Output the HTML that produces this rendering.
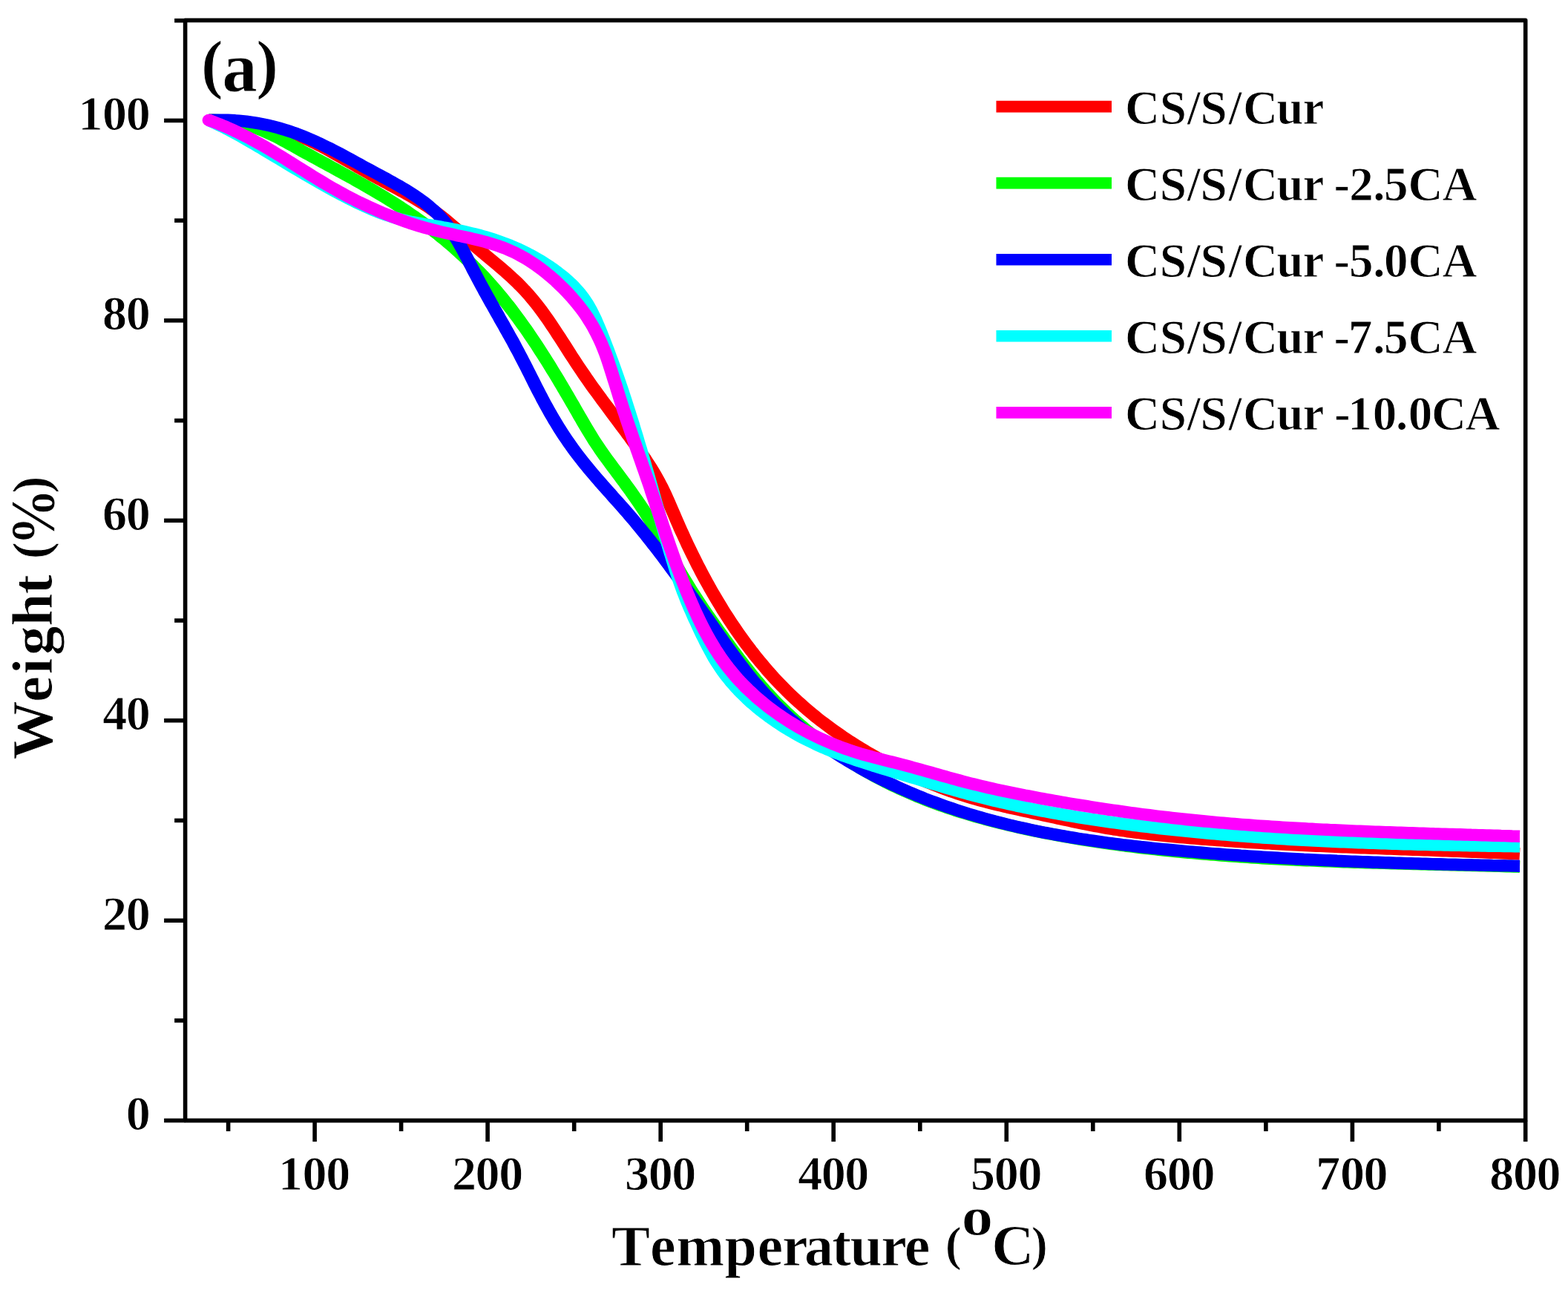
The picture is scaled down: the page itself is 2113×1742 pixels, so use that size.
<!DOCTYPE html>
<html lang="en">
<head>
<meta charset="utf-8">
<title>TGA curves (a)</title>
<style>
html,body{margin:0;padding:0;background:#fff;}
body{width:2113px;height:1742px;overflow:hidden;}
svg{display:block;filter:blur(0.6px);}
text{font-family:"Liberation Serif", "DejaVu Serif", serif;font-weight:bold;fill:#000;stroke:#fff;stroke-width:0.9px;}
.ax{stroke:#000;stroke-width:5.6;fill:none;stroke-linecap:butt;stroke-linejoin:round;}
.cv{fill:none;stroke-width:16.4;stroke-linejoin:round;}
.tk{font-size:66px;}
.lg{font-size:65px;}
</style>
</head>
<body>
<svg width="2113" height="1742" viewBox="0 0 2113 1742">
<rect x="0" y="0" width="2113" height="1742" fill="#ffffff"/>

<g id="curves" transform="scale(1.08,1)">
<path class="cv" stroke="#ff0000" d="M260.6,162.0 L265.5,162.0 L270.3,162.1 L275.1,162.3 L279.8,162.5 L284.6,162.8 L289.2,163.1 L293.9,163.5 L298.5,163.9 L303.1,164.5 L307.7,165.1 L312.2,165.7 L316.7,166.4 L321.2,167.2 L325.7,168.1 L330.1,169.1 L334.5,170.1 L338.9,171.2 L343.3,172.4 L347.6,173.7 L352.0,175.0 L356.3,176.5 L360.6,178.0 L364.8,179.6 L369.1,181.4 L373.3,183.2 L377.5,185.1 L381.7,187.1 L385.9,189.2 L390.1,191.3 L394.3,193.5 L398.4,195.8 L402.6,198.1 L406.7,200.5 L410.8,202.9 L414.9,205.4 L419.0,207.9 L423.1,210.4 L427.2,212.9 L431.3,215.5 L435.4,218.1 L439.5,220.6 L443.6,223.2 L447.6,225.8 L451.7,228.3 L455.8,230.8 L459.9,233.3 L463.9,235.8 L468.0,238.2 L472.1,240.6 L476.2,243.0 L480.2,245.4 L484.3,247.7 L488.3,250.1 L492.4,252.4 L496.4,254.8 L500.4,257.2 L504.4,259.5 L508.4,261.9 L512.4,264.4 L516.3,266.8 L520.2,269.3 L524.1,271.9 L528.0,274.5 L531.9,277.1 L535.7,279.8 L539.4,282.6 L543.2,285.4 L546.9,288.4 L550.6,291.4 L554.2,294.5 L557.8,297.6 L561.3,300.9 L564.9,304.2 L568.4,307.5 L571.9,310.9 L575.3,314.4 L578.8,317.8 L582.2,321.2 L585.7,324.6 L589.1,328.0 L592.6,331.4 L596.1,334.7 L599.6,337.9 L603.1,341.2 L606.6,344.3 L610.1,347.5 L613.6,350.6 L617.1,353.8 L620.6,356.9 L624.1,360.1 L627.5,363.3 L631.0,366.5 L634.4,369.8 L637.8,373.1 L641.1,376.5 L644.5,379.9 L647.7,383.4 L651.0,387.0 L654.2,390.6 L657.3,394.3 L660.4,398.0 L663.4,401.8 L666.4,405.7 L669.3,409.6 L672.1,413.5 L674.9,417.5 L677.7,421.6 L680.4,425.7 L683.1,429.8 L685.7,433.9 L688.3,438.1 L690.9,442.3 L693.5,446.5 L696.0,450.7 L698.6,454.9 L701.1,459.1 L703.6,463.3 L706.1,467.5 L708.6,471.7 L711.0,475.9 L713.5,480.1 L716.1,484.3 L718.6,488.4 L721.1,492.6 L723.7,496.8 L726.3,500.9 L728.9,505.0 L731.5,509.1 L734.2,513.2 L736.8,517.3 L739.5,521.4 L742.2,525.4 L745.0,529.5 L747.7,533.5 L750.4,537.6 L753.2,541.6 L756.0,545.6 L758.8,549.7 L761.5,553.7 L764.3,557.7 L767.1,561.7 L769.9,565.7 L772.7,569.8 L775.4,573.8 L778.2,577.8 L781.0,581.8 L783.7,585.9 L786.5,589.9 L789.2,594.0 L791.9,598.0 L794.6,602.1 L797.2,606.2 L799.9,610.3 L802.5,614.4 L805.1,618.5 L807.6,622.7 L810.1,626.8 L812.6,631.0 L815.0,635.3 L817.3,639.5 L819.6,643.8 L821.8,648.2 L823.9,652.5 L826.0,656.9 L828.0,661.4 L830.0,665.9 L831.9,670.4 L833.8,674.9 L835.6,679.5 L837.4,684.0 L839.2,688.6 L841.1,693.2 L842.9,697.7 L844.7,702.3 L846.6,706.9 L848.4,711.5 L850.3,716.0 L852.3,720.6 L854.2,725.1 L856.2,729.7 L858.1,734.2 L860.1,738.7 L862.1,743.2 L864.2,747.7 L866.3,752.2 L868.3,756.7 L870.4,761.2 L872.6,765.7 L874.7,770.1 L876.9,774.6 L879.1,779.0 L881.3,783.4 L883.6,787.8 L885.8,792.2 L888.1,796.5 L890.5,800.9 L892.8,805.2 L895.2,809.5 L897.6,813.8 L900.0,818.1 L902.4,822.4 L904.9,826.6 L907.4,830.8 L909.9,835.0 L912.5,839.2 L915.1,843.4 L917.7,847.5 L920.3,851.6 L923.0,855.7 L925.7,859.8 L928.4,863.8 L931.1,867.8 L933.9,871.8 L936.7,875.8 L939.6,879.7 L942.4,883.7 L945.3,887.5 L948.2,891.4 L951.2,895.2 L954.2,899.0 L957.2,902.8 L960.2,906.5 L963.3,910.2 L966.4,913.9 L969.6,917.6 L972.8,921.2 L976.0,924.8 L979.2,928.3 L982.5,931.8 L985.8,935.3 L989.1,938.7 L992.5,942.1 L995.9,945.5 L999.4,948.8 L1002.8,952.1 L1006.3,955.4 L1009.9,958.6 L1013.4,961.8 L1017.0,965.0 L1020.6,968.1 L1024.3,971.2 L1028.0,974.2 L1031.7,977.2 L1035.4,980.2 L1039.2,983.2 L1043.0,986.1 L1046.8,988.9 L1050.6,991.8 L1054.5,994.6 L1058.3,997.4 L1062.2,1000.1 L1066.2,1002.8 L1070.1,1005.5 L1074.1,1008.1 L1078.1,1010.7 L1082.1,1013.3 L1086.1,1015.8 L1090.1,1018.3 L1094.2,1020.8 L1098.3,1023.2 L1102.4,1025.6 L1106.5,1028.0 L1110.6,1030.3 L1114.8,1032.6 L1118.9,1034.9 L1123.1,1037.1 L1127.3,1039.3 L1131.4,1041.4 L1135.7,1043.6 L1139.9,1045.7 L1144.1,1047.7 L1148.3,1049.8 L1152.6,1051.8 L1156.8,1053.7 L1161.1,1055.6 L1165.4,1057.5 L1169.7,1059.3 L1174.0,1061.1 L1178.3,1062.9 L1182.6,1064.6 L1186.9,1066.3 L1191.3,1067.9 L1195.6,1069.5 L1200.0,1071.0 L1204.4,1072.5 L1208.7,1074.0 L1213.1,1075.4 L1217.5,1076.8 L1221.9,1078.1 L1226.3,1079.4 L1230.8,1080.6 L1235.2,1081.9 L1239.6,1083.1 L1244.1,1084.3 L1248.5,1085.4 L1253.0,1086.5 L1257.4,1087.7 L1261.9,1088.8 L1266.4,1089.8 L1270.9,1090.9 L1275.4,1092.0 L1279.9,1093.1 L1284.4,1094.1 L1288.9,1095.2 L1293.4,1096.2 L1297.9,1097.3 L1302.5,1098.4 L1307.0,1099.4 L1311.5,1100.5 L1316.1,1101.6 L1320.6,1102.7 L1325.2,1103.7 L1329.7,1104.8 L1334.3,1105.8 L1338.9,1106.9 L1343.5,1107.9 L1348.0,1108.9 L1352.6,1110.0 L1357.2,1110.9 L1361.8,1111.9 L1366.4,1112.9 L1371.0,1113.8 L1375.6,1114.7 L1380.2,1115.6 L1384.8,1116.4 L1389.4,1117.3 L1394.0,1118.0 L1398.6,1118.8 L1403.2,1119.5 L1407.8,1120.3 L1412.4,1120.9 L1417.0,1121.6 L1421.7,1122.2 L1426.3,1122.8 L1430.9,1123.4 L1435.5,1124.0 L1440.1,1124.6 L1444.8,1125.1 L1449.4,1125.6 L1454.0,1126.1 L1458.6,1126.6 L1463.3,1127.1 L1467.9,1127.5 L1472.5,1128.0 L1477.1,1128.4 L1481.8,1128.8 L1486.4,1129.3 L1491.0,1129.7 L1495.6,1130.1 L1500.2,1130.5 L1504.9,1130.9 L1509.5,1131.2 L1514.1,1131.6 L1518.7,1132.0 L1523.3,1132.3 L1527.9,1132.7 L1532.6,1133.0 L1537.2,1133.4 L1541.8,1133.7 L1546.4,1134.0 L1551.0,1134.4 L1555.6,1134.7 L1560.2,1135.0 L1564.9,1135.3 L1569.5,1135.6 L1574.1,1135.9 L1578.7,1136.2 L1583.3,1136.4 L1587.9,1136.7 L1592.5,1137.0 L1597.1,1137.3 L1601.7,1137.5 L1606.3,1137.8 L1611.0,1138.0 L1615.6,1138.3 L1620.2,1138.5 L1624.8,1138.8 L1629.4,1139.0 L1634.0,1139.2 L1638.6,1139.5 L1643.2,1139.7 L1647.8,1139.9 L1652.4,1140.1 L1657.0,1140.3 L1661.7,1140.6 L1666.3,1140.8 L1670.9,1141.0 L1675.5,1141.2 L1680.1,1141.4 L1684.7,1141.6 L1689.3,1141.8 L1693.9,1142.0 L1698.5,1142.2 L1703.2,1142.3 L1707.8,1142.5 L1712.4,1142.7 L1717.0,1142.9 L1721.6,1143.1 L1726.2,1143.3 L1730.8,1143.5 L1735.5,1143.6 L1740.1,1143.8 L1744.7,1144.0 L1749.3,1144.2 L1753.9,1144.4 L1758.5,1144.5 L1763.2,1144.7 L1767.8,1144.9 L1772.4,1145.1 L1777.0,1145.3 L1781.6,1145.4 L1786.3,1145.6 L1790.9,1145.8 L1795.5,1146.0 L1800.1,1146.2 L1804.8,1146.4 L1809.4,1146.5 L1814.0,1146.7 L1818.6,1146.9 L1823.3,1147.1 L1827.9,1147.3 L1832.5,1147.5 L1837.2,1147.7 L1841.8,1147.9 L1846.4,1148.1 L1851.1,1148.3 L1855.7,1148.5 L1860.4,1148.7 L1865.0,1148.9 L1869.6,1149.1 L1874.3,1149.3 L1878.9,1149.5 L1883.6,1149.8 L1888.2,1150.0 L1892.9,1150.2 L1896.3,1150.4"/>
<path class="cv" stroke="#00ff00" d="M260.6,162.0 L265.6,161.9 L270.4,162.0 L275.2,162.2 L280.0,162.6 L284.6,163.2 L289.2,163.9 L293.8,164.8 L298.3,165.8 L302.7,166.9 L307.1,168.2 L311.5,169.6 L315.8,171.1 L320.1,172.7 L324.3,174.5 L328.5,176.3 L332.7,178.3 L336.8,180.3 L341.0,182.4 L345.1,184.6 L349.2,186.9 L353.3,189.3 L357.4,191.7 L361.4,194.1 L365.5,196.5 L369.6,199.0 L373.6,201.4 L377.7,203.9 L381.8,206.3 L385.9,208.7 L389.9,211.1 L394.0,213.5 L398.1,215.9 L402.2,218.3 L406.3,220.7 L410.3,223.1 L414.4,225.5 L418.5,227.9 L422.6,230.3 L426.6,232.7 L430.7,235.1 L434.7,237.5 L438.8,239.9 L442.8,242.4 L446.9,244.8 L450.9,247.2 L454.9,249.7 L458.9,252.2 L462.9,254.7 L466.9,257.2 L470.9,259.8 L474.8,262.3 L478.8,264.9 L482.7,267.5 L486.7,270.2 L490.6,272.8 L494.5,275.5 L498.4,278.2 L502.2,281.0 L506.1,283.7 L509.9,286.5 L513.7,289.4 L517.5,292.2 L521.3,295.2 L525.1,298.1 L528.8,301.0 L532.5,304.0 L536.2,307.1 L539.9,310.1 L543.5,313.2 L547.2,316.3 L550.8,319.5 L554.4,322.6 L557.9,325.9 L561.5,329.1 L565.0,332.4 L568.4,335.7 L571.9,339.0 L575.3,342.4 L578.7,345.8 L582.1,349.2 L585.4,352.6 L588.7,356.1 L592.0,359.7 L595.2,363.2 L598.5,366.8 L601.6,370.4 L604.8,374.0 L607.9,377.7 L611.0,381.4 L614.0,385.1 L617.0,388.9 L620.0,392.7 L623.0,396.5 L625.9,400.3 L628.8,404.2 L631.7,408.1 L634.6,412.0 L637.4,415.9 L640.2,419.9 L642.9,423.9 L645.7,427.9 L648.4,431.9 L651.1,436.0 L653.8,440.0 L656.5,444.1 L659.1,448.2 L661.7,452.3 L664.3,456.5 L666.9,460.6 L669.5,464.8 L672.0,469.0 L674.5,473.2 L677.0,477.4 L679.5,481.7 L682.0,485.9 L684.5,490.2 L686.9,494.4 L689.3,498.7 L691.8,503.0 L694.2,507.3 L696.6,511.6 L699.0,515.9 L701.4,520.2 L703.7,524.6 L706.1,528.9 L708.4,533.2 L710.8,537.6 L713.1,542.0 L715.5,546.3 L717.8,550.7 L720.1,555.0 L722.4,559.4 L724.8,563.7 L727.1,568.1 L729.4,572.4 L731.8,576.7 L734.2,581.0 L736.6,585.3 L739.0,589.5 L741.4,593.7 L743.9,597.8 L746.5,601.9 L749.0,606.0 L751.6,610.0 L754.2,614.0 L756.9,618.0 L759.6,621.9 L762.3,625.9 L765.0,629.8 L767.7,633.7 L770.5,637.7 L773.2,641.6 L775.9,645.6 L778.7,649.6 L781.4,653.7 L784.2,657.7 L786.9,661.8 L789.6,665.9 L792.3,670.1 L795.0,674.3 L797.7,678.4 L800.3,682.7 L802.9,686.9 L805.4,691.1 L808.0,695.4 L810.5,699.6 L812.9,703.9 L815.3,708.2 L817.7,712.4 L820.0,716.7 L822.3,721.0 L824.6,725.3 L826.9,729.6 L829.1,733.9 L831.4,738.2 L833.6,742.5 L835.9,746.7 L838.1,751.0 L840.4,755.3 L842.6,759.6 L844.9,763.9 L847.2,768.2 L849.5,772.5 L851.9,776.8 L854.3,781.0 L856.7,785.3 L859.1,789.6 L861.5,793.8 L864.0,798.1 L866.5,802.3 L869.1,806.6 L871.7,810.8 L874.3,815.0 L876.9,819.2 L879.5,823.4 L882.2,827.6 L884.9,831.8 L887.6,836.0 L890.3,840.1 L893.0,844.3 L895.7,848.4 L898.5,852.5 L901.2,856.6 L903.9,860.7 L906.6,864.7 L909.4,868.8 L912.1,872.8 L914.8,876.8 L917.6,880.8 L920.4,884.8 L923.1,888.7 L925.9,892.6 L928.7,896.5 L931.6,900.4 L934.4,904.3 L937.3,908.1 L940.2,912.0 L943.1,915.8 L946.1,919.5 L949.0,923.3 L952.0,927.0 L955.1,930.7 L958.2,934.3 L961.3,938.0 L964.4,941.6 L967.6,945.2 L970.8,948.7 L974.1,952.2 L977.4,955.7 L980.7,959.2 L984.1,962.6 L987.5,966.0 L990.9,969.4 L994.4,972.7 L997.9,976.0 L1001.4,979.3 L1004.9,982.5 L1008.5,985.7 L1012.1,988.9 L1015.8,992.0 L1019.5,995.1 L1023.2,998.2 L1026.9,1001.2 L1030.7,1004.2 L1034.4,1007.2 L1038.2,1010.1 L1042.1,1013.0 L1045.9,1015.9 L1049.8,1018.7 L1053.7,1021.5 L1057.6,1024.2 L1061.5,1026.9 L1065.5,1029.6 L1069.5,1032.2 L1073.5,1034.8 L1077.5,1037.3 L1081.5,1039.8 L1085.6,1042.3 L1089.6,1044.7 L1093.7,1047.1 L1097.8,1049.4 L1101.9,1051.7 L1106.0,1054.0 L1110.2,1056.2 L1114.3,1058.4 L1118.5,1060.5 L1122.7,1062.6 L1126.9,1064.7 L1131.1,1066.7 L1135.3,1068.7 L1139.5,1070.7 L1143.7,1072.6 L1148.0,1074.4 L1152.3,1076.3 L1156.5,1078.1 L1160.8,1079.9 L1165.1,1081.6 L1169.4,1083.3 L1173.7,1085.0 L1178.1,1086.6 L1182.4,1088.2 L1186.8,1089.8 L1191.1,1091.4 L1195.5,1092.9 L1199.9,1094.4 L1204.3,1095.8 L1208.7,1097.3 L1213.1,1098.7 L1217.5,1100.1 L1221.9,1101.4 L1226.3,1102.7 L1230.8,1104.1 L1235.2,1105.3 L1239.7,1106.6 L1244.2,1107.8 L1248.6,1109.0 L1253.1,1110.2 L1257.6,1111.4 L1262.1,1112.5 L1266.6,1113.6 L1271.1,1114.7 L1275.6,1115.8 L1280.2,1116.9 L1284.7,1117.9 L1289.2,1118.9 L1293.8,1119.9 L1298.3,1120.9 L1302.9,1121.9 L1307.4,1122.9 L1312.0,1123.8 L1316.6,1124.7 L1321.1,1125.6 L1325.7,1126.5 L1330.3,1127.4 L1334.9,1128.3 L1339.5,1129.1 L1344.1,1130.0 L1348.7,1130.8 L1353.3,1131.6 L1357.9,1132.4 L1362.5,1133.1 L1367.1,1133.9 L1371.7,1134.6 L1376.4,1135.4 L1381.0,1136.1 L1385.6,1136.8 L1390.2,1137.5 L1394.9,1138.2 L1399.5,1138.8 L1404.1,1139.5 L1408.8,1140.1 L1413.4,1140.7 L1418.0,1141.4 L1422.7,1142.0 L1427.3,1142.5 L1431.9,1143.1 L1436.6,1143.7 L1441.2,1144.2 L1445.8,1144.8 L1450.5,1145.3 L1455.1,1145.9 L1459.8,1146.4 L1464.4,1146.9 L1469.0,1147.4 L1473.7,1147.8 L1478.3,1148.3 L1482.9,1148.8 L1487.5,1149.2 L1492.2,1149.7 L1496.8,1150.1 L1501.4,1150.5 L1506.0,1150.9 L1510.7,1151.3 L1515.3,1151.7 L1519.9,1152.1 L1524.5,1152.5 L1529.1,1152.9 L1533.7,1153.2 L1538.4,1153.6 L1543.0,1153.9 L1547.6,1154.3 L1552.2,1154.6 L1556.8,1154.9 L1561.4,1155.3 L1566.0,1155.6 L1570.6,1155.9 L1575.2,1156.2 L1579.8,1156.5 L1584.4,1156.7 L1589.0,1157.0 L1593.7,1157.3 L1598.3,1157.5 L1602.9,1157.8 L1607.5,1158.1 L1612.1,1158.3 L1616.7,1158.5 L1621.3,1158.8 L1625.9,1159.0 L1630.5,1159.2 L1635.1,1159.4 L1639.7,1159.6 L1644.3,1159.9 L1648.9,1160.1 L1653.5,1160.3 L1658.1,1160.4 L1662.7,1160.6 L1667.3,1160.8 L1671.9,1161.0 L1676.5,1161.2 L1681.1,1161.4 L1685.7,1161.5 L1690.3,1161.7 L1694.9,1161.9 L1699.5,1162.0 L1704.1,1162.2 L1708.7,1162.3 L1713.3,1162.5 L1717.9,1162.6 L1722.5,1162.8 L1727.1,1162.9 L1731.7,1163.0 L1736.3,1163.2 L1741.0,1163.3 L1745.6,1163.5 L1750.2,1163.6 L1754.8,1163.7 L1759.4,1163.9 L1764.0,1164.0 L1768.6,1164.1 L1773.3,1164.2 L1777.9,1164.4 L1782.5,1164.5 L1787.1,1164.6 L1791.7,1164.7 L1796.4,1164.9 L1801.0,1165.0 L1805.6,1165.1 L1810.3,1165.2 L1814.9,1165.4 L1819.5,1165.5 L1824.2,1165.6 L1828.8,1165.7 L1833.4,1165.8 L1838.1,1166.0 L1842.7,1166.1 L1847.4,1166.2 L1852.0,1166.4 L1856.7,1166.5 L1861.3,1166.6 L1866.0,1166.8 L1870.6,1166.9 L1875.3,1167.0 L1879.9,1167.2 L1884.6,1167.3 L1889.3,1167.5 L1893.9,1167.6 L1896.3,1167.7"/>
<path class="cv" stroke="#0000ff" d="M260.6,162.0 L265.4,161.8 L270.0,161.6 L274.7,161.6 L279.4,161.6 L284.1,161.8 L288.7,162.0 L293.4,162.3 L298.0,162.7 L302.6,163.2 L307.2,163.7 L311.8,164.4 L316.4,165.1 L320.9,165.9 L325.4,166.8 L330.0,167.8 L334.5,168.8 L338.9,169.9 L343.4,171.2 L347.8,172.4 L352.3,173.8 L356.6,175.2 L361.0,176.8 L365.4,178.4 L369.7,180.0 L374.0,181.8 L378.2,183.6 L382.5,185.5 L386.7,187.4 L390.9,189.4 L395.1,191.4 L399.3,193.6 L403.4,195.7 L407.6,197.9 L411.7,200.1 L415.8,202.4 L420.0,204.7 L424.1,207.0 L428.2,209.4 L432.3,211.8 L436.4,214.2 L440.5,216.6 L444.6,219.0 L448.7,221.4 L452.8,223.9 L456.9,226.3 L461.0,228.7 L465.2,231.1 L469.3,233.5 L473.5,235.9 L477.6,238.3 L481.7,240.7 L485.9,243.2 L490.0,245.6 L494.0,248.1 L498.1,250.6 L502.1,253.1 L506.1,255.7 L510.0,258.3 L513.9,261.0 L517.7,263.7 L521.5,266.5 L525.2,269.4 L528.9,272.3 L532.4,275.3 L535.9,278.4 L539.3,281.6 L542.6,284.9 L545.9,288.3 L549.0,291.8 L552.0,295.4 L554.9,299.1 L557.7,302.9 L560.4,306.9 L563.0,310.9 L565.5,315.0 L568.0,319.2 L570.4,323.4 L572.7,327.7 L575.0,332.1 L577.3,336.5 L579.5,341.0 L581.7,345.5 L583.9,350.0 L586.0,354.5 L588.2,359.0 L590.3,363.5 L592.5,368.0 L594.7,372.5 L596.9,377.0 L599.1,381.5 L601.3,385.9 L603.6,390.3 L605.8,394.8 L608.1,399.2 L610.4,403.6 L612.6,407.9 L614.9,412.3 L617.2,416.7 L619.5,421.1 L621.8,425.4 L624.0,429.8 L626.3,434.1 L628.6,438.4 L630.8,442.8 L633.1,447.1 L635.3,451.5 L637.6,455.8 L639.8,460.1 L642.0,464.5 L644.1,468.8 L646.3,473.2 L648.4,477.5 L650.5,481.9 L652.6,486.3 L654.7,490.6 L656.8,495.0 L658.8,499.4 L660.9,503.8 L662.9,508.2 L665.0,512.6 L667.0,517.0 L669.1,521.5 L671.2,525.9 L673.3,530.3 L675.5,534.7 L677.6,539.2 L679.8,543.6 L682.1,548.1 L684.4,552.5 L686.7,557.0 L689.1,561.4 L691.5,565.9 L694.0,570.3 L696.5,574.7 L699.0,579.1 L701.6,583.4 L704.2,587.7 L706.9,592.0 L709.6,596.2 L712.3,600.4 L715.0,604.5 L717.8,608.6 L720.6,612.6 L723.4,616.5 L726.3,620.5 L729.1,624.3 L732.0,628.2 L734.9,632.0 L737.8,635.7 L740.8,639.5 L743.7,643.2 L746.7,646.9 L749.6,650.6 L752.6,654.2 L755.6,657.9 L758.6,661.5 L761.6,665.1 L764.6,668.8 L767.6,672.4 L770.6,676.0 L773.6,679.7 L776.6,683.3 L779.6,687.0 L782.6,690.7 L785.5,694.4 L788.5,698.2 L791.5,701.9 L794.4,705.7 L797.3,709.5 L800.3,713.4 L803.2,717.3 L806.1,721.1 L809.0,725.1 L811.9,729.0 L814.7,733.0 L817.6,736.9 L820.5,740.9 L823.3,745.0 L826.2,749.0 L829.0,753.0 L831.8,757.1 L834.6,761.2 L837.4,765.3 L840.2,769.4 L843.0,773.5 L845.8,777.6 L848.6,781.7 L851.3,785.8 L854.1,790.0 L856.8,794.1 L859.6,798.3 L862.3,802.4 L865.1,806.6 L867.8,810.7 L870.5,814.9 L873.2,819.0 L875.9,823.2 L878.6,827.3 L881.4,831.5 L884.1,835.6 L886.7,839.7 L889.4,843.8 L892.1,848.0 L894.8,852.1 L897.5,856.2 L900.2,860.2 L902.8,864.3 L905.5,868.3 L908.2,872.4 L910.9,876.4 L913.6,880.4 L916.3,884.4 L919.0,888.4 L921.8,892.3 L924.5,896.2 L927.3,900.1 L930.1,904.0 L932.9,907.9 L935.8,911.7 L938.6,915.5 L941.5,919.3 L944.5,923.0 L947.5,926.7 L950.5,930.4 L953.5,934.0 L956.6,937.7 L959.7,941.2 L962.9,944.8 L966.1,948.3 L969.3,951.8 L972.6,955.2 L976.0,958.6 L979.3,962.0 L982.7,965.4 L986.2,968.7 L989.7,971.9 L993.2,975.2 L996.7,978.4 L1000.3,981.5 L1003.9,984.7 L1007.6,987.7 L1011.3,990.8 L1015.0,993.8 L1018.7,996.8 L1022.5,999.8 L1026.3,1002.7 L1030.1,1005.6 L1034.0,1008.4 L1037.8,1011.2 L1041.7,1014.0 L1045.6,1016.7 L1049.6,1019.5 L1053.6,1022.1 L1057.5,1024.8 L1061.6,1027.4 L1065.6,1029.9 L1069.6,1032.4 L1073.7,1034.9 L1077.8,1037.4 L1081.9,1039.8 L1086.0,1042.2 L1090.1,1044.6 L1094.2,1046.9 L1098.4,1049.2 L1102.5,1051.4 L1106.7,1053.6 L1110.9,1055.8 L1115.1,1057.9 L1119.3,1060.0 L1123.5,1062.1 L1127.8,1064.1 L1132.0,1066.1 L1136.2,1068.1 L1140.5,1070.0 L1144.8,1071.9 L1149.1,1073.8 L1153.3,1075.7 L1157.6,1077.5 L1162.0,1079.3 L1166.3,1081.0 L1170.6,1082.7 L1174.9,1084.4 L1179.3,1086.1 L1183.7,1087.7 L1188.0,1089.3 L1192.4,1090.9 L1196.8,1092.4 L1201.2,1093.9 L1205.6,1095.4 L1210.0,1096.9 L1214.4,1098.3 L1218.8,1099.7 L1223.2,1101.1 L1227.7,1102.5 L1232.1,1103.8 L1236.6,1105.1 L1241.0,1106.4 L1245.5,1107.6 L1250.0,1108.9 L1254.5,1110.1 L1259.0,1111.3 L1263.4,1112.4 L1267.9,1113.6 L1272.4,1114.7 L1277.0,1115.8 L1281.5,1116.8 L1286.0,1117.9 L1290.5,1118.9 L1295.1,1119.9 L1299.6,1120.9 L1304.1,1121.9 L1308.7,1122.8 L1313.2,1123.7 L1317.8,1124.6 L1322.4,1125.5 L1326.9,1126.4 L1331.5,1127.3 L1336.1,1128.1 L1340.7,1128.9 L1345.2,1129.7 L1349.8,1130.5 L1354.4,1131.2 L1359.0,1132.0 L1363.6,1132.7 L1368.2,1133.4 L1372.8,1134.1 L1377.4,1134.8 L1382.0,1135.5 L1386.6,1136.2 L1391.2,1136.8 L1395.8,1137.4 L1400.4,1138.1 L1405.1,1138.7 L1409.7,1139.2 L1414.3,1139.8 L1418.9,1140.4 L1423.5,1141.0 L1428.2,1141.5 L1432.8,1142.0 L1437.4,1142.6 L1442.0,1143.1 L1446.7,1143.6 L1451.3,1144.1 L1455.9,1144.5 L1460.5,1145.0 L1465.2,1145.5 L1469.8,1145.9 L1474.4,1146.4 L1479.0,1146.8 L1483.7,1147.3 L1488.3,1147.7 L1492.9,1148.1 L1497.5,1148.5 L1502.2,1149.0 L1506.8,1149.4 L1511.4,1149.8 L1516.0,1150.1 L1520.6,1150.5 L1525.3,1150.9 L1529.9,1151.3 L1534.5,1151.6 L1539.1,1152.0 L1543.7,1152.3 L1548.3,1152.7 L1553.0,1153.0 L1557.6,1153.4 L1562.2,1153.7 L1566.8,1154.0 L1571.4,1154.3 L1576.0,1154.6 L1580.6,1154.9 L1585.2,1155.2 L1589.9,1155.5 L1594.5,1155.8 L1599.1,1156.1 L1603.7,1156.4 L1608.3,1156.6 L1612.9,1156.9 L1617.5,1157.2 L1622.1,1157.4 L1626.7,1157.7 L1631.4,1157.9 L1636.0,1158.2 L1640.6,1158.4 L1645.2,1158.6 L1649.8,1158.9 L1654.4,1159.1 L1659.0,1159.3 L1663.6,1159.5 L1668.2,1159.8 L1672.9,1160.0 L1677.5,1160.2 L1682.1,1160.4 L1686.7,1160.6 L1691.3,1160.8 L1695.9,1161.0 L1700.5,1161.1 L1705.2,1161.3 L1709.8,1161.5 L1714.4,1161.7 L1719.0,1161.8 L1723.6,1162.0 L1728.2,1162.2 L1732.8,1162.3 L1737.5,1162.5 L1742.1,1162.7 L1746.7,1162.8 L1751.3,1163.0 L1755.9,1163.1 L1760.6,1163.3 L1765.2,1163.4 L1769.8,1163.5 L1774.4,1163.7 L1779.0,1163.8 L1783.7,1164.0 L1788.3,1164.1 L1792.9,1164.2 L1797.5,1164.3 L1802.2,1164.5 L1806.8,1164.6 L1811.4,1164.7 L1816.1,1164.8 L1820.7,1165.0 L1825.3,1165.1 L1830.0,1165.2 L1834.6,1165.3 L1839.2,1165.4 L1843.9,1165.5 L1848.5,1165.6 L1853.1,1165.7 L1857.8,1165.8 L1862.4,1166.0 L1867.1,1166.1 L1871.7,1166.2 L1876.4,1166.3 L1881.0,1166.4 L1885.7,1166.5 L1890.3,1166.6 L1895.0,1166.7 L1896.3,1166.7"/>
<path class="cv" stroke="#00ffff" d="M260.6,162.0 L264.9,164.1 L269.2,166.2 L273.4,168.4 L277.6,170.6 L281.7,172.8 L285.9,175.2 L290.0,177.5 L294.1,179.9 L298.1,182.3 L302.2,184.7 L306.2,187.2 L310.2,189.7 L314.2,192.2 L318.1,194.7 L322.1,197.2 L326.0,199.7 L330.0,202.3 L333.9,204.8 L337.8,207.3 L341.7,209.9 L345.6,212.4 L349.6,214.9 L353.5,217.5 L357.4,220.0 L361.3,222.5 L365.2,225.1 L369.1,227.6 L373.1,230.1 L377.0,232.6 L380.9,235.1 L384.9,237.6 L388.9,240.1 L392.9,242.6 L396.9,245.1 L400.9,247.6 L404.9,250.0 L409.0,252.5 L413.1,254.9 L417.2,257.3 L421.3,259.7 L425.5,262.1 L429.7,264.5 L433.9,266.8 L438.1,269.1 L442.3,271.4 L446.6,273.6 L450.9,275.8 L455.2,277.9 L459.5,280.0 L463.8,282.0 L468.2,284.0 L472.6,285.8 L476.9,287.6 L481.3,289.3 L485.7,290.9 L490.2,292.5 L494.6,293.9 L499.0,295.3 L503.5,296.5 L507.9,297.6 L512.4,298.7 L516.9,299.6 L521.3,300.5 L525.8,301.4 L530.3,302.2 L534.8,303.0 L539.3,303.8 L543.8,304.6 L548.3,305.4 L552.7,306.3 L557.2,307.1 L561.7,308.0 L566.2,309.0 L570.7,309.9 L575.2,311.0 L579.6,312.0 L584.1,313.1 L588.6,314.3 L593.0,315.5 L597.5,316.7 L601.9,318.0 L606.3,319.4 L610.7,320.8 L615.1,322.3 L619.5,323.9 L623.9,325.6 L628.2,327.3 L632.6,329.1 L636.9,330.9 L641.2,332.9 L645.5,334.9 L649.8,337.1 L654.0,339.3 L658.2,341.5 L662.4,343.9 L666.5,346.3 L670.6,348.9 L674.6,351.5 L678.6,354.1 L682.6,356.9 L686.5,359.7 L690.3,362.6 L694.1,365.6 L697.8,368.7 L701.4,371.8 L705.0,375.0 L708.5,378.3 L711.9,381.7 L715.2,385.2 L718.3,388.8 L721.4,392.5 L724.3,396.3 L727.1,400.2 L729.7,404.2 L732.2,408.3 L734.5,412.5 L736.8,416.8 L738.9,421.2 L740.9,425.6 L742.9,430.1 L744.7,434.7 L746.6,439.3 L748.3,443.9 L750.1,448.5 L751.8,453.2 L753.5,457.8 L755.2,462.5 L756.8,467.2 L758.5,471.9 L760.1,476.6 L761.7,481.3 L763.3,486.0 L764.9,490.7 L766.5,495.4 L768.0,500.1 L769.6,504.8 L771.1,509.5 L772.6,514.3 L774.1,519.0 L775.6,523.8 L777.1,528.5 L778.5,533.3 L780.0,538.0 L781.4,542.8 L782.8,547.5 L784.2,552.3 L785.6,557.1 L787.0,561.8 L788.4,566.6 L789.8,571.4 L791.1,576.2 L792.5,581.0 L793.9,585.8 L795.2,590.5 L796.5,595.3 L797.8,600.1 L799.2,604.9 L800.5,609.7 L801.8,614.5 L803.1,619.3 L804.4,624.1 L805.6,628.9 L806.9,633.7 L808.2,638.5 L809.5,643.3 L810.7,648.1 L812.0,652.9 L813.3,657.7 L814.5,662.5 L815.8,667.3 L817.0,672.1 L818.3,676.9 L819.6,681.7 L820.8,686.5 L822.1,691.3 L823.3,696.1 L824.6,700.9 L825.9,705.7 L827.1,710.4 L828.4,715.2 L829.7,720.0 L831.0,724.8 L832.3,729.6 L833.6,734.3 L834.9,739.1 L836.2,743.9 L837.6,748.6 L838.9,753.4 L840.3,758.2 L841.6,762.9 L843.0,767.7 L844.5,772.4 L845.9,777.1 L847.4,781.9 L848.9,786.6 L850.5,791.3 L852.1,796.1 L853.8,800.8 L855.5,805.5 L857.2,810.2 L859.0,814.9 L860.9,819.6 L862.8,824.2 L864.7,828.9 L866.6,833.5 L868.6,838.1 L870.5,842.7 L872.5,847.3 L874.5,851.8 L876.5,856.3 L878.6,860.8 L880.6,865.3 L882.7,869.7 L884.8,874.0 L887.0,878.4 L889.2,882.6 L891.4,886.9 L893.8,891.1 L896.2,895.2 L898.7,899.3 L901.3,903.4 L903.9,907.3 L906.7,911.3 L909.6,915.1 L912.5,919.0 L915.5,922.7 L918.6,926.4 L921.7,930.1 L925.0,933.7 L928.3,937.2 L931.6,940.7 L935.0,944.1 L938.5,947.5 L942.1,950.8 L945.7,954.1 L949.3,957.2 L953.0,960.4 L956.8,963.5 L960.6,966.5 L964.5,969.4 L968.3,972.3 L972.3,975.2 L976.2,977.9 L980.2,980.6 L984.2,983.3 L988.3,985.9 L992.4,988.4 L996.5,990.9 L1000.6,993.3 L1004.7,995.6 L1008.9,997.9 L1013.1,1000.1 L1017.3,1002.3 L1021.4,1004.3 L1025.6,1006.4 L1029.9,1008.3 L1034.1,1010.3 L1038.3,1012.1 L1042.5,1014.0 L1046.8,1015.7 L1051.0,1017.5 L1055.3,1019.2 L1059.6,1020.8 L1063.9,1022.4 L1068.1,1024.0 L1072.4,1025.6 L1076.8,1027.1 L1081.1,1028.6 L1085.4,1030.1 L1089.7,1031.6 L1094.1,1033.0 L1098.4,1034.5 L1102.8,1035.9 L1107.1,1037.3 L1111.5,1038.8 L1115.9,1040.2 L1120.3,1041.6 L1124.6,1043.0 L1129.0,1044.5 L1133.4,1045.9 L1137.9,1047.4 L1142.3,1048.8 L1146.7,1050.3 L1151.1,1051.7 L1155.6,1053.2 L1160.0,1054.6 L1164.5,1056.1 L1168.9,1057.5 L1173.4,1059.0 L1177.8,1060.4 L1182.3,1061.8 L1186.8,1063.2 L1191.3,1064.6 L1195.7,1066.0 L1200.2,1067.4 L1204.7,1068.7 L1209.2,1070.0 L1213.7,1071.3 L1218.2,1072.6 L1222.8,1073.9 L1227.3,1075.1 L1231.8,1076.3 L1236.3,1077.5 L1240.9,1078.7 L1245.4,1079.9 L1249.9,1081.0 L1254.5,1082.1 L1259.0,1083.2 L1263.6,1084.3 L1268.1,1085.4 L1272.7,1086.4 L1277.2,1087.5 L1281.8,1088.5 L1286.4,1089.5 L1290.9,1090.5 L1295.5,1091.4 L1300.1,1092.4 L1304.6,1093.3 L1309.2,1094.2 L1313.8,1095.1 L1318.4,1096.0 L1323.0,1096.9 L1327.5,1097.8 L1332.1,1098.6 L1336.7,1099.4 L1341.3,1100.3 L1345.9,1101.1 L1350.5,1101.9 L1355.1,1102.7 L1359.7,1103.4 L1364.3,1104.2 L1368.9,1104.9 L1373.5,1105.7 L1378.1,1106.4 L1382.7,1107.1 L1387.3,1107.8 L1391.8,1108.5 L1396.4,1109.2 L1401.0,1109.8 L1405.6,1110.5 L1410.2,1111.1 L1414.8,1111.8 L1419.4,1112.4 L1424.0,1113.0 L1428.6,1113.6 L1433.2,1114.2 L1437.8,1114.8 L1442.4,1115.4 L1447.0,1116.0 L1451.6,1116.5 L1456.2,1117.1 L1460.8,1117.6 L1465.4,1118.2 L1470.0,1118.7 L1474.6,1119.2 L1479.2,1119.7 L1483.8,1120.2 L1488.4,1120.7 L1493.0,1121.2 L1497.6,1121.6 L1502.2,1122.1 L1506.8,1122.6 L1511.4,1123.0 L1516.0,1123.4 L1520.6,1123.9 L1525.2,1124.3 L1529.8,1124.7 L1534.4,1125.1 L1539.0,1125.5 L1543.6,1125.9 L1548.2,1126.3 L1552.8,1126.7 L1557.4,1127.0 L1562.0,1127.4 L1566.6,1127.8 L1571.2,1128.1 L1575.9,1128.5 L1580.5,1128.8 L1585.1,1129.1 L1589.7,1129.4 L1594.3,1129.8 L1598.9,1130.1 L1603.5,1130.4 L1608.1,1130.7 L1612.7,1131.0 L1617.3,1131.2 L1621.9,1131.5 L1626.5,1131.8 L1631.1,1132.1 L1635.8,1132.3 L1640.4,1132.6 L1645.0,1132.8 L1649.6,1133.1 L1654.2,1133.3 L1658.8,1133.5 L1663.4,1133.7 L1668.0,1134.0 L1672.7,1134.2 L1677.3,1134.4 L1681.9,1134.6 L1686.5,1134.8 L1691.1,1135.0 L1695.7,1135.2 L1700.4,1135.4 L1705.0,1135.6 L1709.6,1135.7 L1714.2,1135.9 L1718.8,1136.1 L1723.5,1136.3 L1728.1,1136.4 L1732.7,1136.6 L1737.3,1136.7 L1741.9,1136.9 L1746.6,1137.0 L1751.2,1137.2 L1755.8,1137.3 L1760.4,1137.4 L1765.1,1137.6 L1769.7,1137.7 L1774.3,1137.8 L1779.0,1137.9 L1783.6,1138.1 L1788.2,1138.2 L1792.8,1138.3 L1797.5,1138.4 L1802.1,1138.5 L1806.7,1138.6 L1811.4,1138.7 L1816.0,1138.8 L1820.6,1138.9 L1825.3,1139.0 L1829.9,1139.1 L1834.6,1139.2 L1839.2,1139.3 L1843.8,1139.4 L1848.5,1139.5 L1853.1,1139.6 L1857.8,1139.7 L1862.4,1139.7 L1867.0,1139.8 L1871.7,1139.9 L1876.3,1140.0 L1881.0,1140.1 L1885.6,1140.1 L1890.3,1140.2 L1894.9,1140.3 L1896.3,1140.3"/>
<path class="cv" stroke="#ff00ff" d="M260.6,162.0 L265.0,163.7 L269.4,165.5 L273.7,167.3 L277.9,169.2 L282.2,171.1 L286.4,173.1 L290.6,175.2 L294.8,177.3 L298.9,179.5 L303.0,181.7 L307.2,183.9 L311.2,186.2 L315.3,188.6 L319.3,191.0 L323.4,193.4 L327.4,195.8 L331.4,198.3 L335.4,200.9 L339.4,203.4 L343.3,206.0 L347.3,208.6 L351.3,211.2 L355.2,213.8 L359.2,216.5 L363.1,219.1 L367.0,221.8 L371.0,224.5 L374.9,227.1 L378.9,229.8 L382.8,232.4 L386.8,235.1 L390.7,237.7 L394.7,240.3 L398.6,242.9 L402.6,245.5 L406.6,248.1 L410.6,250.6 L414.6,253.1 L418.7,255.6 L422.7,258.0 L426.8,260.4 L430.8,262.8 L434.9,265.1 L439.0,267.4 L443.1,269.7 L447.3,271.9 L451.4,274.1 L455.6,276.2 L459.8,278.3 L464.0,280.4 L468.2,282.4 L472.4,284.4 L476.6,286.4 L480.9,288.3 L485.2,290.1 L489.5,291.9 L493.8,293.7 L498.1,295.4 L502.4,297.1 L506.8,298.8 L511.1,300.4 L515.5,301.9 L519.9,303.4 L524.3,304.9 L528.8,306.3 L533.2,307.6 L537.7,308.9 L542.2,310.2 L546.7,311.4 L551.2,312.6 L555.7,313.7 L560.3,314.8 L564.8,315.8 L569.3,316.9 L573.9,317.9 L578.4,319.0 L583.0,320.1 L587.5,321.1 L592.0,322.3 L596.6,323.4 L601.0,324.7 L605.5,325.9 L610.0,327.3 L614.4,328.7 L618.8,330.2 L623.2,331.8 L627.5,333.5 L631.8,335.3 L636.0,337.3 L640.2,339.3 L644.4,341.5 L648.5,343.9 L652.6,346.3 L656.6,348.8 L660.6,351.5 L664.5,354.2 L668.4,357.0 L672.2,360.0 L676.0,363.0 L679.7,366.1 L683.3,369.3 L686.9,372.5 L690.4,375.8 L693.9,379.2 L697.3,382.7 L700.7,386.2 L704.0,389.7 L707.2,393.3 L710.3,396.9 L713.4,400.6 L716.4,404.3 L719.4,408.1 L722.2,411.9 L725.0,415.8 L727.7,419.7 L730.4,423.7 L733.0,427.9 L735.4,432.1 L737.9,436.4 L740.2,440.7 L742.4,445.2 L744.6,449.7 L746.7,454.2 L748.7,458.8 L750.6,463.4 L752.4,468.1 L754.1,472.7 L755.8,477.4 L757.3,482.1 L758.8,486.8 L760.2,491.5 L761.6,496.2 L763.0,500.9 L764.4,505.6 L765.7,510.3 L767.1,515.0 L768.5,519.7 L769.8,524.4 L771.2,529.1 L772.5,533.9 L773.9,538.6 L775.3,543.3 L776.7,548.1 L778.1,552.8 L779.6,557.5 L781.0,562.3 L782.5,567.0 L784.0,571.8 L785.5,576.5 L787.0,581.3 L788.5,586.0 L790.0,590.8 L791.6,595.5 L793.1,600.3 L794.6,605.1 L796.2,609.8 L797.7,614.6 L799.3,619.3 L800.8,624.1 L802.3,628.9 L803.9,633.6 L805.4,638.4 L806.9,643.1 L808.5,647.9 L810.0,652.6 L811.5,657.4 L812.9,662.2 L814.4,666.9 L815.9,671.7 L817.4,676.4 L818.8,681.2 L820.3,685.9 L821.7,690.6 L823.2,695.4 L824.7,700.1 L826.1,704.8 L827.6,709.6 L829.1,714.3 L830.5,719.0 L832.0,723.7 L833.5,728.5 L835.0,733.2 L836.5,737.9 L838.0,742.6 L839.5,747.3 L841.1,752.0 L842.6,756.6 L844.2,761.3 L845.8,766.0 L847.4,770.6 L849.0,775.3 L850.6,780.0 L852.3,784.6 L854.0,789.2 L855.7,793.9 L857.4,798.5 L859.2,803.1 L861.0,807.7 L862.8,812.3 L864.7,816.9 L866.5,821.5 L868.5,826.0 L870.4,830.5 L872.4,835.1 L874.4,839.5 L876.5,844.0 L878.6,848.4 L880.8,852.8 L883.0,857.2 L885.3,861.6 L887.6,865.9 L890.0,870.1 L892.4,874.4 L894.9,878.5 L897.4,882.7 L900.0,886.8 L902.7,890.8 L905.4,894.8 L908.2,898.8 L911.1,902.7 L914.0,906.5 L917.0,910.3 L920.0,914.1 L923.2,917.8 L926.4,921.4 L929.6,925.0 L932.9,928.5 L936.3,931.9 L939.7,935.3 L943.1,938.7 L946.6,942.0 L950.2,945.2 L953.8,948.4 L957.5,951.6 L961.2,954.6 L965.0,957.6 L968.8,960.6 L972.6,963.5 L976.5,966.3 L980.4,969.1 L984.3,971.9 L988.3,974.5 L992.3,977.1 L996.4,979.7 L1000.5,982.2 L1004.6,984.6 L1008.7,987.0 L1012.9,989.3 L1017.1,991.5 L1021.3,993.7 L1025.5,995.8 L1029.8,997.9 L1034.0,999.9 L1038.3,1001.9 L1042.6,1003.7 L1046.9,1005.6 L1051.3,1007.3 L1055.6,1009.0 L1060.0,1010.6 L1064.3,1012.2 L1068.7,1013.7 L1073.0,1015.2 L1077.4,1016.6 L1081.8,1017.9 L1086.2,1019.2 L1090.6,1020.5 L1094.9,1021.7 L1099.3,1022.9 L1103.7,1024.1 L1108.2,1025.3 L1112.6,1026.5 L1117.0,1027.7 L1121.4,1028.9 L1125.8,1030.1 L1130.3,1031.4 L1134.7,1032.7 L1139.1,1034.0 L1143.6,1035.3 L1148.0,1036.6 L1152.5,1038.0 L1156.9,1039.3 L1161.4,1040.7 L1165.9,1042.1 L1170.3,1043.4 L1174.8,1044.8 L1179.3,1046.2 L1183.7,1047.5 L1188.2,1048.9 L1192.7,1050.2 L1197.2,1051.5 L1201.7,1052.8 L1206.2,1054.1 L1210.7,1055.3 L1215.2,1056.5 L1219.7,1057.7 L1224.2,1058.9 L1228.7,1060.0 L1233.3,1061.2 L1237.8,1062.3 L1242.3,1063.4 L1246.8,1064.4 L1251.4,1065.5 L1255.9,1066.5 L1260.4,1067.5 L1265.0,1068.5 L1269.5,1069.5 L1274.1,1070.5 L1278.6,1071.5 L1283.2,1072.4 L1287.7,1073.3 L1292.3,1074.3 L1296.8,1075.2 L1301.4,1076.1 L1305.9,1077.0 L1310.5,1077.9 L1315.1,1078.8 L1319.6,1079.6 L1324.2,1080.5 L1328.8,1081.3 L1333.4,1082.2 L1337.9,1083.0 L1342.5,1083.8 L1347.1,1084.6 L1351.7,1085.4 L1356.3,1086.2 L1360.8,1087.0 L1365.4,1087.8 L1370.0,1088.5 L1374.6,1089.3 L1379.2,1090.0 L1383.8,1090.8 L1388.4,1091.5 L1393.0,1092.2 L1397.6,1092.9 L1402.2,1093.6 L1406.8,1094.3 L1411.4,1095.0 L1416.0,1095.7 L1420.6,1096.3 L1425.2,1097.0 L1429.8,1097.6 L1434.4,1098.2 L1439.0,1098.8 L1443.6,1099.5 L1448.2,1100.1 L1452.8,1100.6 L1457.4,1101.2 L1462.0,1101.8 L1466.6,1102.4 L1471.2,1102.9 L1475.8,1103.4 L1480.4,1104.0 L1485.0,1104.5 L1489.7,1105.0 L1494.3,1105.5 L1498.9,1106.0 L1503.5,1106.5 L1508.1,1106.9 L1512.7,1107.4 L1517.3,1107.8 L1521.9,1108.3 L1526.5,1108.7 L1531.1,1109.2 L1535.7,1109.6 L1540.3,1110.0 L1545.0,1110.4 L1549.6,1110.8 L1554.2,1111.2 L1558.8,1111.5 L1563.4,1111.9 L1568.0,1112.3 L1572.6,1112.6 L1577.2,1113.0 L1581.8,1113.3 L1586.4,1113.6 L1591.1,1114.0 L1595.7,1114.3 L1600.3,1114.6 L1604.9,1114.9 L1609.5,1115.2 L1614.1,1115.5 L1618.7,1115.8 L1623.3,1116.0 L1628.0,1116.3 L1632.6,1116.6 L1637.2,1116.8 L1641.8,1117.1 L1646.4,1117.4 L1651.0,1117.6 L1655.6,1117.8 L1660.3,1118.1 L1664.9,1118.3 L1669.5,1118.5 L1674.1,1118.8 L1678.7,1119.0 L1683.3,1119.2 L1688.0,1119.4 L1692.6,1119.6 L1697.2,1119.8 L1701.8,1120.0 L1706.4,1120.2 L1711.1,1120.4 L1715.7,1120.6 L1720.3,1120.8 L1724.9,1121.0 L1729.5,1121.1 L1734.2,1121.3 L1738.8,1121.5 L1743.4,1121.7 L1748.0,1121.8 L1752.6,1122.0 L1757.3,1122.2 L1761.9,1122.3 L1766.5,1122.5 L1771.1,1122.6 L1775.8,1122.8 L1780.4,1123.0 L1785.0,1123.1 L1789.6,1123.3 L1794.3,1123.4 L1798.9,1123.6 L1803.5,1123.7 L1808.2,1123.9 L1812.8,1124.0 L1817.4,1124.2 L1822.0,1124.3 L1826.7,1124.5 L1831.3,1124.6 L1835.9,1124.8 L1840.6,1124.9 L1845.2,1125.1 L1849.8,1125.2 L1854.5,1125.4 L1859.1,1125.5 L1863.7,1125.7 L1868.4,1125.8 L1873.0,1126.0 L1877.7,1126.1 L1882.3,1126.3 L1886.9,1126.5 L1891.6,1126.6 L1896.2,1126.8 L1896.3,1126.8"/>
<circle cx="260.6" cy="162" r="8.20" fill="#ff00ff"/>
</g>
<g id="axes">
<rect class="ax" x="249.6" y="27.4" width="1806.1" height="1482.2"/>
<line class="ax" x1="221.1" y1="1509.6" x2="249.6" y2="1509.6"/>
<line class="ax" x1="235.1" y1="1374.9" x2="249.6" y2="1374.9"/>
<line class="ax" x1="221.1" y1="1240.2" x2="249.6" y2="1240.2"/>
<line class="ax" x1="235.1" y1="1105.4" x2="249.6" y2="1105.4"/>
<line class="ax" x1="221.1" y1="970.7" x2="249.6" y2="970.7"/>
<line class="ax" x1="235.1" y1="836.0" x2="249.6" y2="836.0"/>
<line class="ax" x1="221.1" y1="701.3" x2="249.6" y2="701.3"/>
<line class="ax" x1="235.1" y1="566.6" x2="249.6" y2="566.6"/>
<line class="ax" x1="221.1" y1="431.8" x2="249.6" y2="431.8"/>
<line class="ax" x1="235.1" y1="297.1" x2="249.6" y2="297.1"/>
<line class="ax" x1="221.1" y1="162.4" x2="249.6" y2="162.4"/>
<line class="ax" x1="235.1" y1="27.7" x2="249.6" y2="27.7"/>
<line class="ax" x1="307.6" y1="1509.6" x2="307.6" y2="1524.1"/>
<line class="ax" x1="424.1" y1="1509.6" x2="424.1" y2="1538.1"/>
<line class="ax" x1="540.6" y1="1509.6" x2="540.6" y2="1524.1"/>
<line class="ax" x1="657.1" y1="1509.6" x2="657.1" y2="1538.1"/>
<line class="ax" x1="773.7" y1="1509.6" x2="773.7" y2="1524.1"/>
<line class="ax" x1="890.2" y1="1509.6" x2="890.2" y2="1538.1"/>
<line class="ax" x1="1006.7" y1="1509.6" x2="1006.7" y2="1524.1"/>
<line class="ax" x1="1123.2" y1="1509.6" x2="1123.2" y2="1538.1"/>
<line class="ax" x1="1239.8" y1="1509.6" x2="1239.8" y2="1524.1"/>
<line class="ax" x1="1356.3" y1="1509.6" x2="1356.3" y2="1538.1"/>
<line class="ax" x1="1472.8" y1="1509.6" x2="1472.8" y2="1524.1"/>
<line class="ax" x1="1589.3" y1="1509.6" x2="1589.3" y2="1538.1"/>
<line class="ax" x1="1705.9" y1="1509.6" x2="1705.9" y2="1524.1"/>
<line class="ax" x1="1822.4" y1="1509.6" x2="1822.4" y2="1538.1"/>
<line class="ax" x1="1938.9" y1="1509.6" x2="1938.9" y2="1524.1"/>
<line class="ax" x1="2055.7" y1="1509.6" x2="2055.7" y2="1538.1"/>
</g>
<g id="ticklabels" class="tk">
<text x="169.7" y="1521.9">0</text>
<text x="138.1 169.7" y="1252.5">20</text>
<text x="138.3 169.7" y="983.0">40</text>
<text x="137.9 169.7" y="713.6">60</text>
<text x="138.1 169.7" y="444.1">80</text>
<text x="105.6 138.1 169.7" y="174.7">100</text>
<text x="375.1 407.6 439.2" y="1602.6">100</text>
<text x="609.1 640.6 672.2" y="1602.6">200</text>
<text x="842.0 873.7 905.3" y="1602.6">300</text>
<text x="1075.3 1106.8 1138.3" y="1602.6">400</text>
<text x="1308.1 1339.8 1371.4" y="1602.6">500</text>
<text x="1541.1 1572.8 1604.4" y="1602.6">600</text>
<text x="1773.2 1805.9 1837.5" y="1602.6">700</text>
<text x="2007.3 2038.9 2070.5" y="1602.6">800</text>
</g>
<g id="titles">
<text y="1705" font-size="78"><tspan x="824.1 875.9 911.3 976.6 1020.6 1054 1083.9 1121 1145.5 1187.3 1218.8">Temperature </tspan><tspan x="1273.7" y="1697.9" font-size="66.5">(</tspan><tspan x="1295.7" y="1664.4" font-size="74" textLength="42.4" lengthAdjust="spacingAndGlyphs">o</tspan><tspan x="1336.3" y="1704.4" font-size="79">C</tspan><tspan x="1389.8" y="1697.9" font-size="66.5">)</tspan></text>
<g transform="translate(70.2,1020.5) rotate(-90)">
<text y="0" font-size="79"><tspan x="-2.7 74.4 112.1 137.6 176.9 220.1">Weight </tspan><tspan x="267.2" y="-5.6" font-size="70">(</tspan><tspan x="285.4" y="2.4" font-size="84" textLength="76.8" lengthAdjust="spacingAndGlyphs">%</tspan><tspan x="355.7" y="-5.6" font-size="70">)</tspan></text>
</g>
<text x="271" y="116.3" font-size="89"><tspan>(</tspan><tspan dy="7" dx="-1.5" font-size="95">a</tspan><tspan dy="-7" dx="-1.5">)</tspan></text>
</g>
<g id="legend" class="lg">
<line x1="1342.5" y1="143.6" x2="1498" y2="143.6" stroke="#ff0000" stroke-width="15.6"/>
<text x="1516.0 1562.7 1599.7 1617.6 1655.6 1674.9 1720.3 1755.4" y="167.1">CS/S/Cur</text>
<line x1="1342.5" y1="246.6" x2="1498" y2="246.6" stroke="#00ff00" stroke-width="15.6"/>
<text xml:space="preserve" x="1516.0 1562.7 1599.7 1617.6 1655.6 1674.9 1720.3 1755.4 1785.0 1797.4 1818.2 1850.2 1865.0 1897.6 1943.4" y="270.1">CS/S/Cur -2.5CA</text>
<line x1="1342.5" y1="349.7" x2="1498" y2="349.7" stroke="#0000ff" stroke-width="15.6"/>
<text xml:space="preserve" x="1516.0 1562.7 1599.7 1617.6 1655.6 1674.9 1720.3 1755.4 1785.0 1797.4 1818.1 1850.2 1865.0 1897.6 1943.4" y="373.2">CS/S/Cur -5.0CA</text>
<line x1="1342.5" y1="452.8" x2="1498" y2="452.8" stroke="#00ffff" stroke-width="15.6"/>
<text xml:space="preserve" x="1516.0 1562.7 1599.7 1617.6 1655.6 1674.9 1720.3 1755.4 1785.0 1797.4 1817.1 1850.2 1865.0 1897.6 1943.4" y="476.3">CS/S/Cur -7.5CA</text>
<line x1="1342.5" y1="555.9" x2="1498" y2="555.9" stroke="#ff00ff" stroke-width="15.6"/>
<text xml:space="preserve" x="1516.0 1562.7 1599.7 1617.6 1655.6 1674.9 1720.3 1755.4 1785.0 1798.1 1816.3 1849.8 1880.9 1897.8 1928.9 1974.4" y="579.4">CS/S/Cur -10.0CA</text>
</g>
</svg>
</body>
</html>
